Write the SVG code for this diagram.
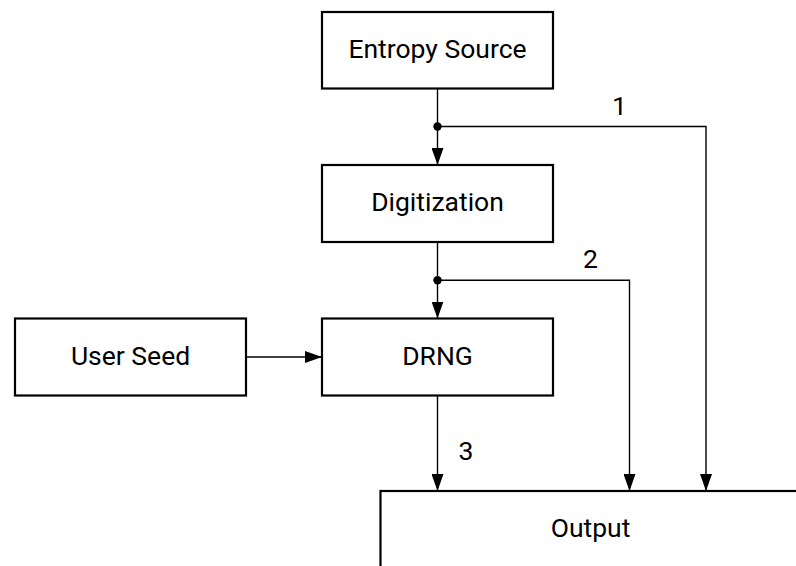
<svg xmlns="http://www.w3.org/2000/svg" width="796" height="566" viewBox="0 0 796 566">
  <style>
    .box { fill: #ffffff; stroke: #000000; stroke-width: 2.2; }
    .lbl { font-family: Roboto, "Liberation Sans", sans-serif; font-size: 26.5px; fill: #000000; text-anchor: middle; }
    .wire { fill: none; stroke: #000000; stroke-width: 1.4; }
    .dot { fill: #000000; }
  </style>
  <defs>
    <marker id="arrow" viewBox="0 0 17 12" refX="17" refY="6" markerWidth="17" markerHeight="12" markerUnits="userSpaceOnUse" orient="auto">
      <path d="M0,0 L17,6 L0,12 Z" fill="#000000"/>
    </marker>
  </defs>
  <rect x="0" y="0" width="796" height="566" fill="#ffffff"/>

  <g id="entropy-source">
    <rect class="box" x="322" y="12" width="231" height="76.5"/>
    <text class="lbl" x="437.5" y="58">Entropy Source</text>
  </g>
  <g id="digitization">
    <rect class="box" x="322" y="165" width="231" height="77"/>
    <text class="lbl" x="437.5" y="211">Digitization</text>
  </g>
  <g id="drng">
    <rect class="box" x="322" y="318.5" width="231" height="77"/>
    <text class="lbl" x="437.5" y="365">DRNG</text>
  </g>
  <g id="user-seed">
    <rect class="box" x="15" y="318.5" width="231" height="77"/>
    <text class="lbl" x="130.5" y="365">User Seed</text>
  </g>
  <g id="output">
    <rect class="box" x="380.5" y="491" width="500" height="200"/>
    <text class="lbl" x="590.5" y="537">Output</text>
  </g>

  <g id="connectors">
    <path class="wire" d="M437.5,88.5 L437.5,165" marker-end="url(#arrow)"/>
    <path class="wire" d="M437.5,126.5 L706,126.5 L706,491" marker-end="url(#arrow)"/>
    <circle class="dot" cx="437.5" cy="126.5" r="4.2"/>
    <text class="lbl" x="619.5" y="114.5">1</text>

    <path class="wire" d="M437.5,242 L437.5,318.5" marker-end="url(#arrow)"/>
    <path class="wire" d="M437.5,280.3 L629.5,280.3 L629.5,491" marker-end="url(#arrow)"/>
    <circle class="dot" cx="437.5" cy="280.3" r="4.2"/>
    <text class="lbl" x="590.5" y="268">2</text>

    <path class="wire" d="M437.5,395.5 L437.5,491" marker-end="url(#arrow)"/>
    <text class="lbl" x="466" y="460">3</text>

    <path class="wire" d="M246,357 L322,357" marker-end="url(#arrow)"/>
  </g>
</svg>
